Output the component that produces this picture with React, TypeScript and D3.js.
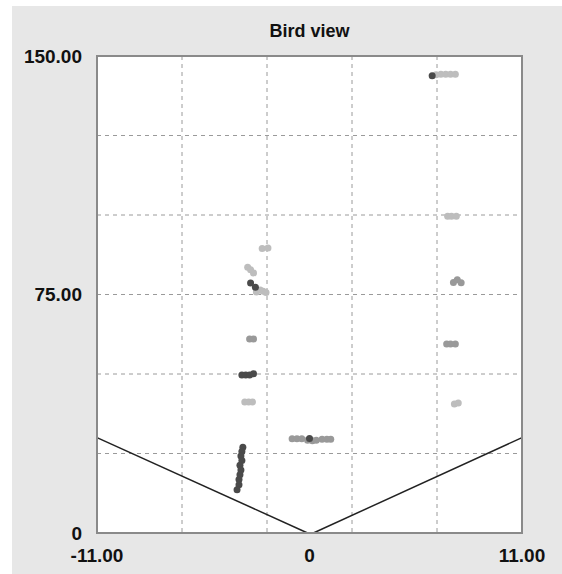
import React, { useEffect, useRef } from 'react';
import * as d3 from 'd3';

// axis setup
const xDomain = [-11, 11];
const yDomain = [0, 150];
const xTickValues = [-11, 0, 11];
const yTickValues = [0, 75, 150];
const xGridValues = [-6.6, -2.2, 2.2, 6.6];
const yGridValues = [25, 50, 75, 100, 125];

// detected objects, grouped by shade
const lightPoints = [
  [-2.45, 89.5], [-2.15, 89.6],
  [-3.2, 83.6], [-3.05, 82.8], [-2.9, 81.8],
  [-2.75, 75.8], [-2.55, 76.4], [-2.4, 76.0], [-2.25, 75.6],
  [-3.35, 41.2], [-3.15, 41.2], [-2.95, 41.2],
  [6.55, 144.1], [6.8, 144.3], [7.05, 144.3], [7.3, 144.3], [7.55, 144.3],
  [7.15, 99.6], [7.35, 99.6], [7.6, 99.6],
  [7.5, 40.6], [7.7, 40.9],
];

const midPoints = [
  [-3.1, 61.0], [-2.9, 61.0],
  [-0.9, 29.6], [-0.65, 29.6], [-0.4, 29.6],
  [-0.1, 29.2], [0.15, 29.0], [0.35, 29.2],
  [0.65, 29.5], [0.9, 29.5], [1.1, 29.5],
  [7.45, 78.8], [7.65, 79.6], [7.85, 78.7],
  [7.1, 59.4], [7.3, 59.4], [7.55, 59.4],
];

const darkPoints = [
  [6.35, 143.8],
  [-3.05, 78.6], [-2.8, 77.3],
  [-3.5, 49.7], [-3.3, 49.7], [-3.1, 49.7], [-2.9, 50.1],
  [-3.45, 27.0], [-3.5, 25.6], [-3.55, 24.2], [-3.5, 22.8], [-3.6, 21.3],
  [-3.55, 19.8], [-3.6, 18.3], [-3.65, 16.8], [-3.65, 15.2], [-3.75, 13.6],
  [0.0, 29.7],
];

// field-of-view boundary
const boundaryLeft = [[-11, 30], [-0.1, 0]];
const boundaryRight = [[0.2, 0], [11, 30]];

const App = () => {
  const ref = useRef<SVGSVGElement>(null);

  useEffect(() => {
    const svg = d3.select(ref.current);
    svg.selectAll('*').remove();

    const width = 562;
    const height = 574;
    const margin = { top: 56, right: 40, bottom: 41, left: 97 };
    const plotW = width - margin.left - margin.right;
    const plotH = height - margin.top - margin.bottom;
    const font = '"Liberation Sans", Arial, sans-serif';

    const x = d3.scaleLinear().domain(xDomain).range([0, plotW]);
    const y = d3.scaleLinear().domain(yDomain).range([plotH, 0]);

    svg.append('rect').attr('width', width).attr('height', height).attr('fill', '#fff');
    svg.append('rect').attr('x', 12).attr('y', 6).attr('width', width - 12).attr('height', height - 6).attr('fill', '#e7e7e7');

    svg
      .append('text')
      .attr('x', margin.left + plotW / 2)
      .attr('y', 37)
      .attr('text-anchor', 'middle')
      .attr('font-family', font)
      .attr('font-weight', 'bold')
      .attr('font-size', 18)
      .attr('fill', '#111')
      .text('Bird view');

    const g = svg.append('g').attr('transform', `translate(${margin.left},${margin.top})`);

    g.append('rect').attr('width', plotW).attr('height', plotH).attr('fill', '#fff');

    // grid
    g.selectAll('.vgrid')
      .data(xGridValues)
      .enter()
      .append('line')
      .attr('x1', (d) => x(d))
      .attr('x2', (d) => x(d))
      .attr('y1', 0)
      .attr('y2', plotH)
      .attr('stroke', '#9a9a9a')
      .attr('stroke-dasharray', '4,4');

    g.selectAll('.hgrid')
      .data(yGridValues)
      .enter()
      .append('line')
      .attr('x1', 0)
      .attr('x2', plotW)
      .attr('y1', (d) => y(d))
      .attr('y2', (d) => y(d))
      .attr('stroke', '#9a9a9a')
      .attr('stroke-dasharray', '4,4');

    // boundary lines
    const line = d3
      .line<number[]>()
      .x((d) => x(d[0]))
      .y((d) => y(d[1]));
    [boundaryLeft, boundaryRight].forEach((seg) => {
      g.append('path').attr('d', line(seg)).attr('fill', 'none').attr('stroke', '#222').attr('stroke-width', 1.5);
    });

    // points
    const drawPoints = (data: number[][], color: string) => {
      g.append('g')
        .selectAll('circle')
        .data(data)
        .enter()
        .append('circle')
        .attr('cx', (d) => x(d[0]))
        .attr('cy', (d) => y(d[1]))
        .attr('r', 3.5)
        .attr('fill', color);
    };
    drawPoints(lightPoints, '#bdbdbd');
    drawPoints(midPoints, '#999');
    drawPoints(darkPoints, '#4a4a4a');

    // frame
    g.append('rect')
      .attr('width', plotW)
      .attr('height', plotH)
      .attr('fill', 'none')
      .attr('stroke', '#8a8a8a')
      .attr('stroke-width', 2);

    // tick labels
    const fmt = (d: number) => (d === 0 ? '0' : d.toFixed(2));

    g.selectAll('.ylab')
      .data(yTickValues)
      .enter()
      .append('text')
      .attr('x', -15)
      .attr('y', (d) => y(d))
      .attr('dy', '0.35em')
      .attr('text-anchor', 'end')
      .attr('font-family', font)
      .attr('font-weight', 'bold')
      .attr('font-size', 19)
      .attr('fill', '#111')
      .text(fmt);

    g.selectAll('.xlab')
      .data(xTickValues)
      .enter()
      .append('text')
      .attr('x', (d) => x(d))
      .attr('y', plotH + 29)
      .attr('text-anchor', 'middle')
      .attr('font-family', font)
      .attr('font-weight', 'bold')
      .attr('font-size', 19)
      .attr('fill', '#111')
      .text(fmt);
  }, []);

  return (
    <div style={{ position: 'absolute', left: 0, top: 0 }}>
      <svg ref={ref} width={562} height={574} style={{ display: 'block' }} />
    </div>
  );
};

export default App;
